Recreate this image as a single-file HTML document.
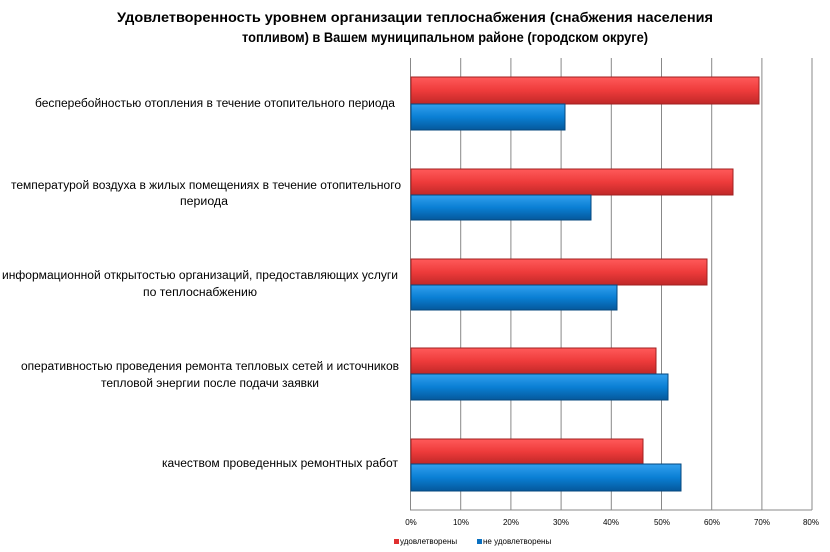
<!DOCTYPE html>
<html><head><meta charset="utf-8"><style>body{margin:0;background:#fff}svg{display:block}</style></head>
<body>
<svg width="830" height="552" viewBox="0 0 830 552" xmlns="http://www.w3.org/2000/svg" font-family="Liberation Sans, sans-serif">
<defs>
<linearGradient id="r" x1="0" y1="0" x2="0" y2="1"><stop offset="0" stop-color="#ff5a5a"/><stop offset="0.5" stop-color="#ee3b3b"/><stop offset="1" stop-color="#c02828"/></linearGradient>
<linearGradient id="b" x1="0" y1="0" x2="0" y2="1"><stop offset="0" stop-color="#33a0ee"/><stop offset="0.5" stop-color="#0a7fd4"/><stop offset="1" stop-color="#05589c"/></linearGradient>
</defs>
<g font-weight="bold" font-size="14" fill="#000" text-anchor="middle">
<text x="415" y="22" textLength="596" lengthAdjust="spacingAndGlyphs">Удовлетворенность уровнем организации теплоснабжения (снабжения населения</text>
<text x="445" y="42" textLength="406" lengthAdjust="spacingAndGlyphs">топливом) в Вашем муниципальном районе (городском округе)</text>
</g>
<g stroke="#888" stroke-width="1">
<line x1="460.7" y1="58" x2="460.7" y2="510"/><line x1="510.9" y1="58" x2="510.9" y2="510"/><line x1="561.1" y1="58" x2="561.1" y2="510"/><line x1="611.3" y1="58" x2="611.3" y2="510"/><line x1="661.5" y1="58" x2="661.5" y2="510"/><line x1="711.7" y1="58" x2="711.7" y2="510"/><line x1="761.9" y1="58" x2="761.9" y2="510"/><line x1="812" y1="58" x2="812" y2="510"/>
<line x1="410.5" y1="58" x2="410.5" y2="510"/><line x1="410" y1="510" x2="812" y2="510"/>
</g>
<g stroke-width="1">
<rect x="411" y="77" width="348" height="27" fill="url(#r)" stroke="#a02020"/>
<rect x="411" y="104" width="154" height="26" fill="url(#b)" stroke="#04477e"/>
<rect x="411" y="169" width="322" height="26" fill="url(#r)" stroke="#a02020"/>
<rect x="411" y="195" width="180" height="25" fill="url(#b)" stroke="#04477e"/>
<rect x="411" y="259" width="296" height="26" fill="url(#r)" stroke="#a02020"/>
<rect x="411" y="285" width="206" height="25" fill="url(#b)" stroke="#04477e"/>
<rect x="411" y="348" width="245" height="26" fill="url(#r)" stroke="#a02020"/>
<rect x="411" y="374" width="257" height="26" fill="url(#b)" stroke="#04477e"/>
<rect x="411" y="439" width="232" height="25" fill="url(#r)" stroke="#a02020"/>
<rect x="411" y="464" width="270" height="27" fill="url(#b)" stroke="#04477e"/>
</g>
<g font-size="11.5" fill="#000" text-anchor="middle">
<text x="215" y="107" textLength="360" lengthAdjust="spacingAndGlyphs">бесперебойностью отопления в течение отопительного периода</text>
<text x="206" y="189" textLength="390" lengthAdjust="spacingAndGlyphs">температурой воздуха в жилых помещениях в течение отопительного</text>
<text x="204" y="205" textLength="48" lengthAdjust="spacingAndGlyphs">периода</text>
<text x="200" y="279" textLength="396" lengthAdjust="spacingAndGlyphs">информационной открытостью организаций, предоставляющих услуги</text>
<text x="200" y="296" textLength="114" lengthAdjust="spacingAndGlyphs">по теплоснабжению</text>
<text x="210" y="370" textLength="378" lengthAdjust="spacingAndGlyphs">оперативностью проведения ремонта тепловых сетей и источников</text>
<text x="210" y="387" textLength="218" lengthAdjust="spacingAndGlyphs">тепловой энергии после подачи заявки</text>
<text x="280" y="467" textLength="236" lengthAdjust="spacingAndGlyphs">качеством проведенных ремонтных работ</text>
</g>
<g font-size="8" fill="#000" text-anchor="middle">
<text x="411" y="525">0%</text><text x="461" y="525">10%</text><text x="511" y="525">20%</text><text x="561" y="525">30%</text><text x="611" y="525">40%</text><text x="662" y="525">50%</text><text x="712" y="525">60%</text><text x="762" y="525">70%</text><text x="811" y="525">80%</text>
</g>
<rect x="394" y="539" width="5" height="5" fill="#e03030"/>
<text x="400" y="544" font-size="8" fill="#000">удовлетворены</text>
<rect x="477" y="539" width="5" height="5" fill="#0a70c0"/>
<text x="483" y="544" font-size="8" fill="#000">не удовлетворены</text>
</svg>
</body></html>
